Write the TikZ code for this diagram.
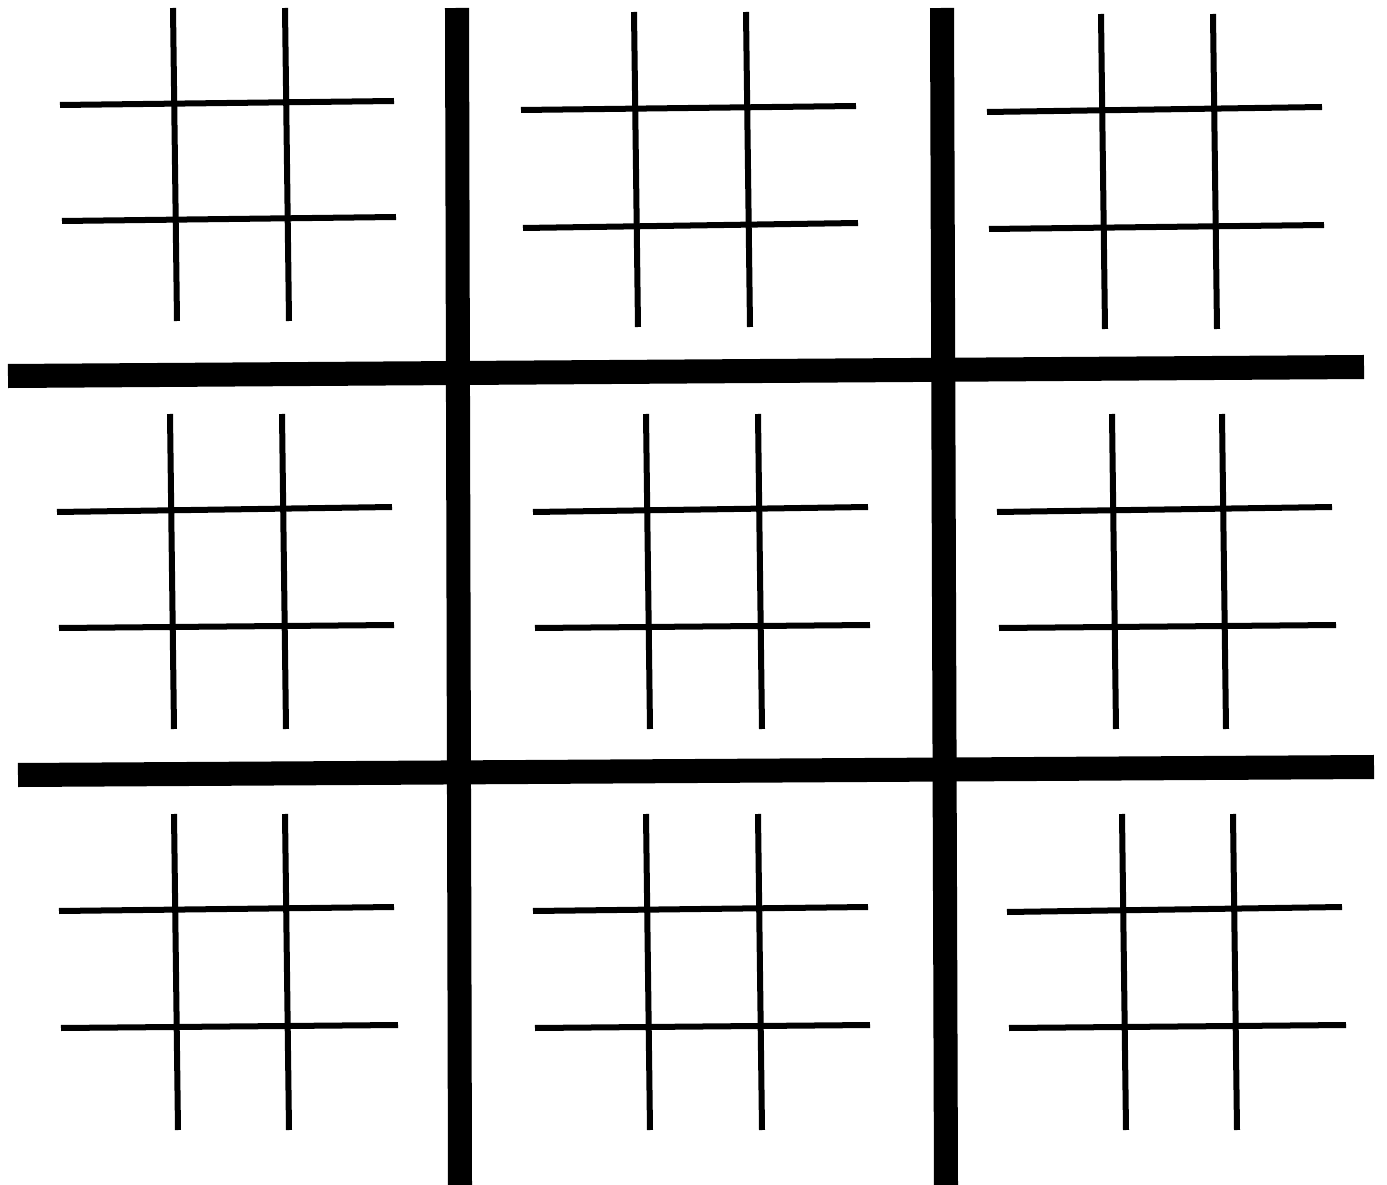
\documentclass[tikz,border=0pt]{standalone}
\usepackage{tikz}

\begin{document}
\begin{tikzpicture}[x=0.01cm,y=-0.01cm,
    bigline/.style={line width=0.24cm},
    smallline/.style={line width=0.06cm}]

      \useasboundingbox (0,0) rectangle (1387,1185);

      % big board
      \draw [bigline] (457,8) -- (460,1185);
      \draw [bigline] (942,8) -- (946,1185);
      \draw [bigline] (8,376) -- (1364,367);
      \draw [bigline] (18,775) -- (1374,767);

      % top row
      \draw [smallline] (60,105) -- (394,101);
      \draw [smallline] (62,221) -- (396,217);
      \draw [smallline] (173,8) -- (177,321);
      \draw [smallline] (285,8) -- (289,321);

      \draw [smallline] (521,110) -- (856,106);
      \draw [smallline] (523,228) -- (858,223);
      \draw [smallline] (634,12) -- (638,327);
      \draw [smallline] (746,12) -- (750,327);

      \draw [smallline] (987,112) -- (1322,107);
      \draw [smallline] (989,229) -- (1324,225);
      \draw [smallline] (1101,14) -- (1105,329);
      \draw [smallline] (1213,14) -- (1217,329);

      % middle row
      \draw [smallline] (57,512) -- (392,507);
      \draw [smallline] (59,628) -- (394,625);
      \draw [smallline] (170,414) -- (174,729);
      \draw [smallline] (282,414) -- (286,729);

      \draw [smallline] (533,512) -- (868,507);
      \draw [smallline] (535,628) -- (870,625);
      \draw [smallline] (646,414) -- (650,729);
      \draw [smallline] (758,414) -- (762,729);

      \draw [smallline] (997,512) -- (1332,507);
      \draw [smallline] (999,628) -- (1336,625);
      \draw [smallline] (1112,414) -- (1116,729);
      \draw [smallline] (1222,414) -- (1226,729);

      % bottom row
      \draw [smallline] (59,911) -- (394,907);
      \draw [smallline] (61,1028) -- (398,1025);
      \draw [smallline] (174,814) -- (178,1130);
      \draw [smallline] (285,814) -- (289,1130);

      \draw [smallline] (533,911) -- (868,907);
      \draw [smallline] (535,1028) -- (870,1025);
      \draw [smallline] (646,814) -- (650,1130);
      \draw [smallline] (758,814) -- (762,1130);

      \draw [smallline] (1007,912) -- (1342,907);
      \draw [smallline] (1009,1028) -- (1346,1025);
      \draw [smallline] (1122,814) -- (1126,1130);
      \draw [smallline] (1233,814) -- (1237,1130);

    \end{tikzpicture}
\end{document}
